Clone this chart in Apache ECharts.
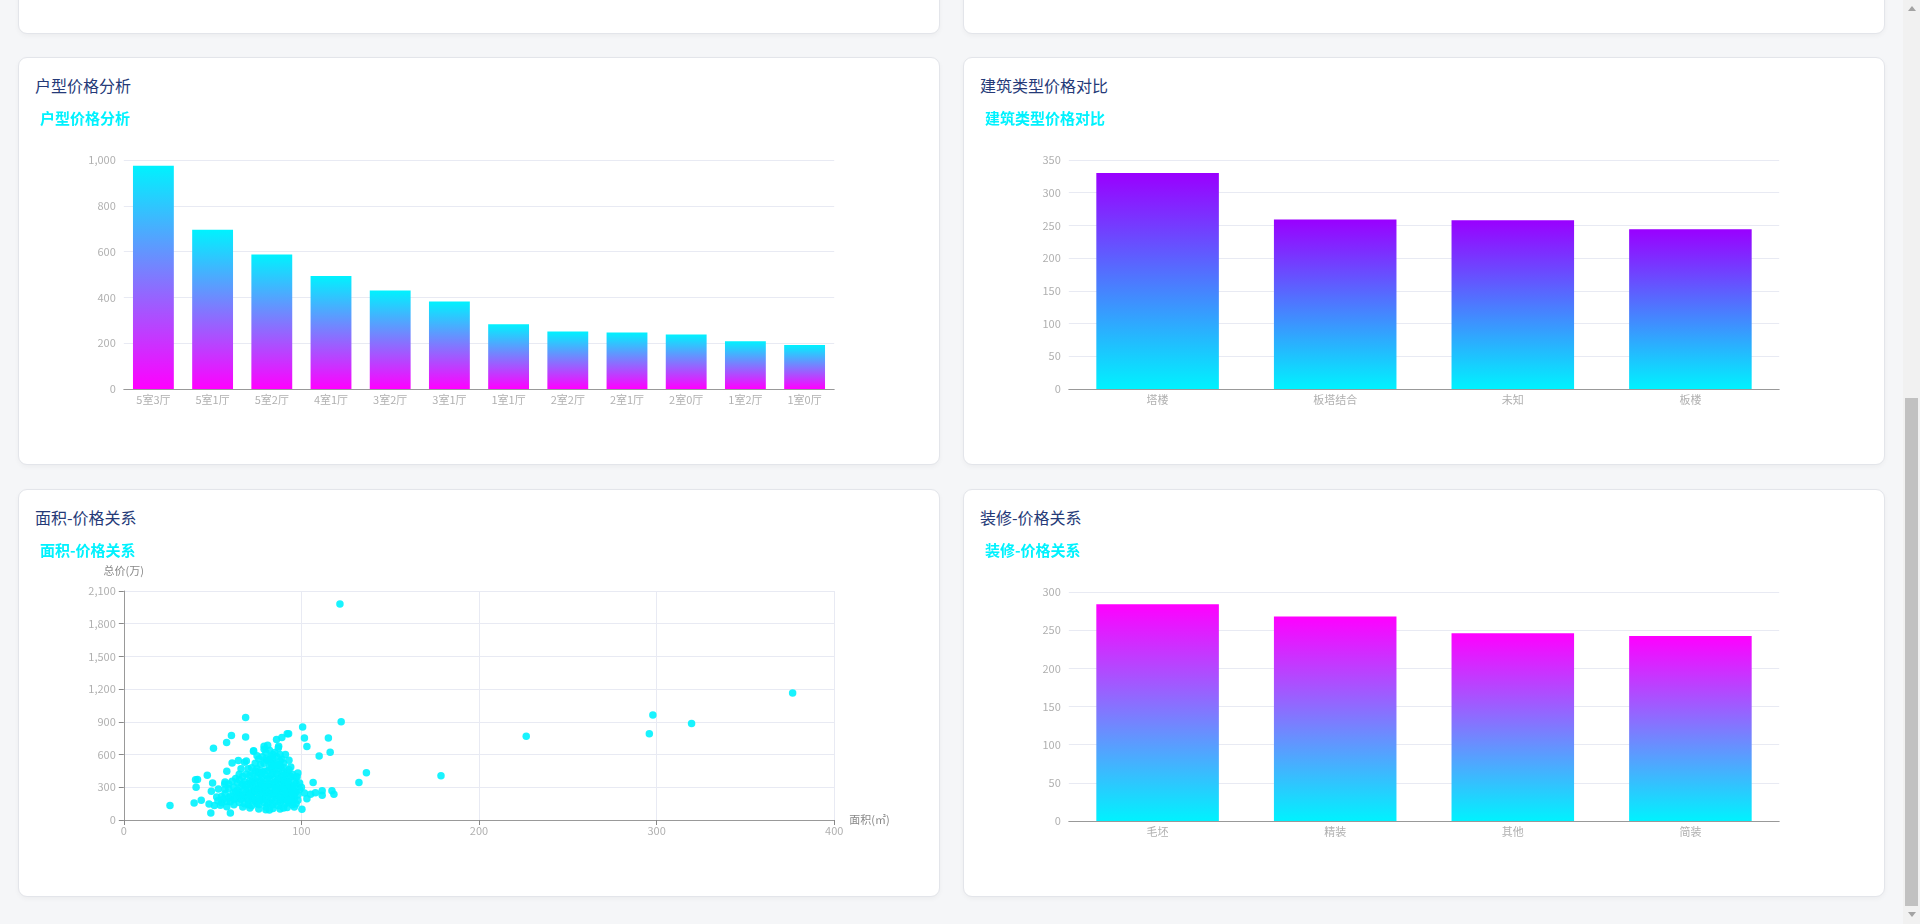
<!DOCTYPE html>
<html lang="zh-CN">
<head>
<meta charset="utf-8">
<title>房价数据分析</title>
<script src="https://cdn.jsdelivr.net/npm/echarts/dist/echarts.min.js"></script>
<style>
  html, body { margin: 0; padding: 0; width: 1920px; height: 924px; overflow: hidden; background: #f5f6f8;
    font-family: "Microsoft YaHei", "Noto Sans CJK SC", "Noto Sans", sans-serif; }
  .card { position: absolute; width: 920px; height: 406px; background: #fff; border: 1px solid #e3e5ea;
    border-radius: 9px; box-shadow: 0 2px 5px rgba(0,0,0,0.04); }
  .card h3 { position: absolute; left: 16px; top: 15px; margin: 0; font-size: 16px; line-height: 24px;
    font-weight: normal; color: #253a78; }
  .chart { position: absolute; left: 16px; top: 41px; width: 888px; height: 349px; }
  .sb { position: absolute; left: 1903px; top: 0; width: 17px; height: 924px; background: #f1f1f1; }
  .sb .thumb { position: absolute; left: 2px; width: 13px; top: 398px; height: 508px; background: #c1c1c1; }
  .sb .up { position: absolute; left: 5px; top: 6px; width: 0; height: 0; border-left: 4px solid transparent;
    border-right: 4px solid transparent; border-bottom: 5px solid #a3a3a3; }
  .sb .down { position: absolute; left: 5px; top: 912px; width: 0; height: 0; border-left: 4px solid transparent;
    border-right: 4px solid transparent; border-top: 5px solid #a3a3a3; }
</style>
</head>
<body>
<div class="card" style="left:18px; top:-374px;"></div>
<div class="card" style="left:963px; top:-374px;"></div>

<div class="card" style="left:18px; top:57px;"><h3>户型价格分析</h3><div class="chart" id="c1"></div></div>
<div class="card" style="left:963px; top:57px;"><h3>建筑类型价格对比</h3><div class="chart" id="c2"></div></div>
<div class="card" style="left:18px; top:489px;"><h3>面积-价格关系</h3><div class="chart" id="c3"></div></div>
<div class="card" style="left:963px; top:489px;"><h3>装修-价格关系</h3><div class="chart" id="c4"></div></div>

<div class="sb"><div class="up"></div><div class="thumb"></div><div class="down"></div></div>

<script>
// 户型 vs 平均总价(万)
const layoutNames = ['5室3厅', '5室1厅', '5室2厅', '4室1厅', '3室2厅', '3室1厅', '1室1厅', '2室2厅', '2室1厅', '2室0厅', '1室2厅', '1室0厅'];
const layoutPrices = [975, 695, 587, 493, 430, 382, 283, 251, 247, 238, 209, 192];

// 建筑类型 vs 平均总价(万)
const buildingTypes = ['塔楼', '板塔结合', '未知', '板楼'];
const buildingPrices = [330, 259, 258, 244];

// 装修 vs 平均总价(万)
const decorationTypes = ['毛坯', '精装', '其他', '简装'];
const decorationPrices = [284, 268, 246, 242.5];

// 面积(㎡), 总价(万)
const areaPrice = [
  [26, 132], [39.6, 156], [40.4, 370], [41.5, 372], [40.7, 300], [43.6, 181], [47, 410], [48, 147],
  [49, 64], [50, 340], [49.3, 263], [50.5, 658], [53.3, 285], [57.9, 710], [60.6, 774], [68.6, 762],
  [68.6, 940], [60, 64], [61, 523], [64.5, 545], [68, 530], [56.8, 330], [58, 447], [57, 349],
  [52.3, 211], [54.4, 135], [61.7, 254], [64.5, 230], [51, 134], [53, 176], [55, 158], [56, 190],
  [58, 122], [59, 205], [60, 168], [62, 140], [63, 198], [64, 275], [65, 160], [66, 310],
  [67, 120], [57, 240], [59, 288], [61, 355], [63, 380], [65, 420], [66, 470], [67, 210],
  [68, 150], [69, 260], [70, 330], [70, 180], [71, 410], [71, 110], [72, 480], [72, 240],
  [73, 630], [73, 300], [74, 170], [74, 360], [75, 590], [75, 220], [76, 140], [76, 440],
  [77, 280], [77, 510], [78, 190], [78, 390], [79, 676], [79, 250], [80, 120], [80, 330],
  [80, 560], [81, 686], [81, 210], [81, 450], [82, 160], [82, 380], [83, 290], [83, 520],
  [84, 230], [84, 600], [84, 140], [85, 350], [85, 470], [86, 738], [86, 200], [86, 420],
  [87, 661], [87, 280], [87, 130], [88, 600], [88, 320], [88, 540], [89, 756], [89, 180],
  [89, 400], [90, 250], [90, 480], [90, 110], [91, 600], [91, 350], [91, 210], [92, 790],
  [92, 290], [92, 440], [93, 548], [93, 160], [93, 380], [94, 487], [94, 230], [94, 310],
  [95, 200], [95, 420], [96, 263], [96, 187], [97, 392], [97, 334], [97, 150], [72, 200],
  [73, 260], [74, 330], [75, 150], [75, 390], [76, 300], [77, 180], [77, 420], [78, 240],
  [78, 340], [79, 160], [79, 450], [80, 270], [80, 210], [81, 310], [82, 250], [82, 480],
  [83, 190], [83, 410], [84, 330], [85, 170], [85, 260], [86, 300], [86, 500], [87, 220],
  [87, 380], [88, 160], [88, 270], [89, 330], [89, 460], [90, 190], [90, 360], [91, 280],
  [91, 150], [92, 230], [92, 350], [93, 270], [93, 460], [94, 180], [94, 400], [95, 300],
  [95, 140], [96, 350], [96, 230], [70, 250], [71, 290], [69, 200], [68, 350], [67, 400],
  [66, 230], [73, 420], [74, 520], [76, 560], [78, 580], [80, 620], [82, 640], [84, 560],
  [86, 580], [88, 500], [90, 520], [85, 620], [83, 470], [79, 520], [77, 360], [76, 250],
  [76, 100], [80, 95], [84, 105], [88, 100], [92, 115], [96, 120], [82, 92], [72, 130],
  [98, 230], [99, 280], [98, 180], [99, 340], [100, 300], [97, 260], [100.3, 98], [101.7, 247],
  [103.1, 195], [105.2, 235], [107.9, 250], [106.6, 344], [111.7, 268], [111.7, 226], [117.2, 268],
  [118.3, 235], [97.6, 396], [98, 430], [79, 649], [73.1, 634], [87.2, 677], [92.8, 792], [70, 470],
  [69, 540], [71, 360], [74, 450], [81, 540], [83, 580], [85, 520], [87, 450], [89, 560], [91, 420],
  [62, 300], [64, 340], [65, 250], [66, 190], [68, 280], [69, 310], [69, 420], [70, 140],
  [71, 230], [72, 350], [73, 190], [74, 270], [75, 470], [76, 200], [77, 320], [78, 440],
  [79, 300], [80, 410], [81, 380], [81, 150], [82, 330], [83, 240], [84, 420], [85, 300],
  [86, 250], [86, 360], [87, 510], [88, 210], [89, 290], [90, 410], [90, 300], [91, 250],
  [92, 180], [93, 330], [94, 270], [95, 250], [96, 310], [60, 220], [58, 170], [62, 190],
  [55, 215], [57, 280], [59, 330], [63, 260], [65, 370], [67, 330], [84, 500], [82, 560],
  [121.7, 1981], [376.6, 1164], [297.9, 963], [319.7, 884], [295.9, 792], [226.6, 768],
  [178.6, 405], [136.6, 433], [132.4, 344], [122.4, 902], [116.2, 622], [115.2, 753],
  [110, 588], [103.1, 674], [100.7, 853], [101.7, 753]
];

// 坐标轴刻度设置
const layoutAxisMax = 1000, buildingAxisMax = 350, decorationAxisMax = 300;
const areaAxisMax = 400, areaAxisStep = 100, priceAxisMax = 2100, priceAxisStep = 300;

const FONT = '"Microsoft YaHei", "Noto Sans CJK SC", sans-serif';
const CYAN = '#00f2fe';
const labelStyle = { color: '#b0b0b0', fontSize: 11, fontFamily: FONT };
const splitStyle = { lineStyle: { color: '#e8eaf3' } };

function vGrad(topColor, bottomColor) {
  return new echarts.graphic.LinearGradient(0, 0, 0, 1, [
    { offset: 0, color: topColor },
    { offset: 1, color: bottomColor }
  ]);
}

function titleOf(text) {
  return {
    text: text, left: 0, top: 7,
    textStyle: { color: CYAN, fontSize: 15, fontWeight: 'bold', fontFamily: FONT }
  };
}

function barOption(title, cats, vals, max, interval, topColor, bottomColor) {
  return {
    title: titleOf(title),
    grid: { left: '10%', right: '10%', top: 61, bottom: 59 },
    xAxis: {
      type: 'category', data: cats,
      axisLine: { lineStyle: { color: '#999', width: 1 } },
      axisTick: { lineStyle: { color: '#888' } },
      axisLabel: Object.assign({ margin: 5 }, labelStyle)
    },
    yAxis: {
      type: 'value', min: 0, max: max, interval: interval,
      axisLine: { show: false }, axisTick: { show: false },
      axisLabel: labelStyle, splitLine: splitStyle
    },
    series: [{
      type: 'bar', data: vals, barCategoryGap: '31%',
      itemStyle: { color: vGrad(topColor, bottomColor) }
    }]
  };
}

const c1 = echarts.init(document.getElementById('c1'));
c1.setOption(barOption('户型价格分析', layoutNames, layoutPrices, layoutAxisMax, 200, CYAN, '#ff00ff'));

const c2 = echarts.init(document.getElementById('c2'));
c2.setOption(barOption('建筑类型价格对比', buildingTypes, buildingPrices, buildingAxisMax, 50, '#9a00ff', CYAN));

const c4 = echarts.init(document.getElementById('c4'));
c4.setOption(barOption('装修-价格关系', decorationTypes, decorationPrices, decorationAxisMax, 50, '#ff00ff', CYAN));

const c3 = echarts.init(document.getElementById('c3'));
c3.setOption({
  title: titleOf('面积-价格关系'),
  grid: { left: '10%', right: '10%', top: 60, bottom: 60 },
  xAxis: {
    type: 'value', name: '面积(㎡)', min: 0, max: areaAxisMax, interval: areaAxisStep,
    nameTextStyle: { color: '#888', fontSize: 11, fontFamily: FONT },
    axisLine: { show: true, lineStyle: { color: '#999' } },
    axisTick: { show: true, lineStyle: { color: '#888' } },
    axisLabel: Object.assign({ margin: 5 }, labelStyle),
    splitLine: { show: true, lineStyle: { color: '#e8eaf3' } }
  },
  yAxis: {
    type: 'value', name: '总价(万)', min: 0, max: priceAxisMax, interval: priceAxisStep,
    nameTextStyle: { color: '#888', fontSize: 11, fontFamily: FONT },
    axisLine: { show: true, lineStyle: { color: '#999' } },
    axisTick: { show: true, lineStyle: { color: '#888' } },
    axisLabel: labelStyle,
    splitLine: splitStyle
  },
  series: [{
    type: 'scatter', data: areaPrice, symbolSize: 7.5,
    itemStyle: { color: CYAN, opacity: 0.9 }
  }]
});
</script>
</body>
</html>
